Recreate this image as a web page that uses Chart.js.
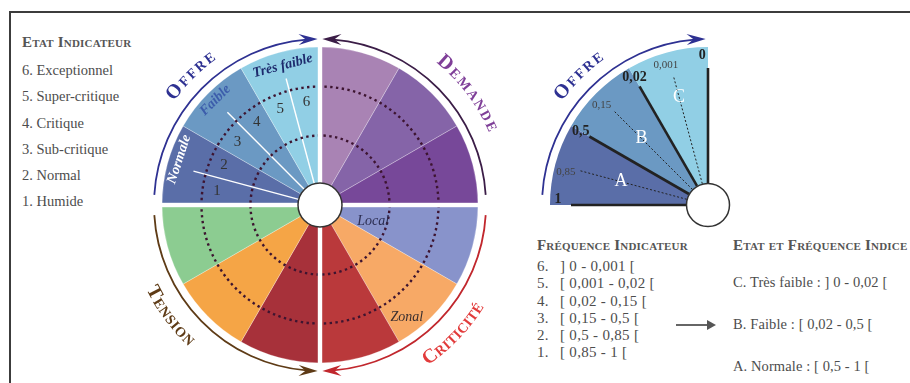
<!DOCTYPE html>
<html>
<head>
<meta charset="utf-8">
<script src="https://cdn.jsdelivr.net/npm/chart.js@4.4.1/dist/chart.umd.min.js"></script>
<style>
  body { margin: 0; width: 910px; height: 383px; overflow: hidden; position: relative; background: #fff;
         font-family: "Liberation Serif", serif; color: #4d4d4d; }
  .frame { position: absolute; left: 9px; top: 11px; width: 940px; height: 420px;
           border-left: 2px solid #3c3c3c; border-top: 2px solid #3c3c3c; }
  .title { position: absolute; font-variant: small-caps; font-weight: bold; font-size: 15px;
           line-height: 1; color: #555; letter-spacing: 0.2px; white-space: nowrap; }
  .list { position: absolute; font-size: 14.5px; white-space: nowrap; }
  .list div span { display: inline-block; width: 23px; }
  canvas { position: absolute; top: 0; }
  #wheel { left: 100px; }
  #offre { left: 520px; }
  .arrow { position: absolute; left: 676px; top: 324px; width: 32px; height: 2px; background: #666; }
  .arrow:after { content: ""; position: absolute; left: 31px; top: -4px; border-left: 9px solid #555;
                 border-top: 5px solid transparent; border-bottom: 5px solid transparent; }
</style>
</head>
<body>
<div class="frame"></div>

<div class="title" style="left:22px; top:35px;">Etat Indicateur</div>
<div class="list" id="stateList" style="left:22px; top:57px; line-height:26.3px;"></div>

<div class="title" style="left:537px; top:238px;">Fréquence Indicateur</div>
<div class="list" id="freqList" style="left:537px; top:258px; line-height:17.3px; font-size:15px; letter-spacing:0.3px;"></div>

<div class="arrow"></div>

<div class="title" style="left:733px; top:238px;">Etat et Fréquence Indice</div>
<div class="list" id="indexList" style="left:733px; top:261px; line-height:42.2px; font-size:14.5px; letter-spacing:0.1px;"></div>

<canvas id="wheel" width="440" height="383"></canvas>
<canvas id="offre" width="240" height="383"></canvas>

<script>
// legends
const stateNumbers = ['6', '5', '4', '3', '2', '1'];
const stateLabels = ['Exceptionnel', 'Super-critique', 'Critique', 'Sub-critique', 'Normal', 'Humide'];
const freqRanges = ['] 0 - 0,001 [', '[ 0,001 - 0,02 [', '[ 0,02 - 0,15 [', '[ 0,15 - 0,5 [', '[ 0,5 - 0,85 [', '[ 0,85 - 1 ['];
const indexStates = ['C. Très faible : ] 0 - 0,02 [', 'B. Faible : [ 0,02 - 0,5 [', 'A. Normale : [ 0,5 - 1 ['];

// wheel: 12 wedges, clockwise from the top
const wedgeLabels = ['Demande 1', 'Demande 2', 'Demande 3', 'Local', 'Zonal', 'Criticité 3',
                     'Tension 1', 'Tension 2', 'Tension 3', 'Normale', 'Faible', 'Très faible'];
const wedgeValues = [1, 1, 1, 1, 1, 1, 1, 1, 1, 1, 1, 1];
const wedgeColors = ['#a983b4', '#8564a8', '#774899', '#8893cb', '#f7a966', '#ba393b',
                     '#a7313a', '#f5a546', '#8ccc91', '#5a6ea8', '#6b99c3', '#91cfe5'];
const ringValues = [0, 0.44, 0.75];
const offreSteps = ['1', '2', '3', '4', '5', '6'];

// right panel: Offre index
const indexClasses = ['A', 'B', 'C'];
const indexShares = [1, 1, 1];
const indexColors = ['#5a6ea8', '#6b99c3', '#91cfe5'];
const freqTicks = ['1', '0,85', '0,5', '0,15', '0,02', '0,001', '0'];

document.getElementById('stateList').innerHTML =
  stateLabels.map((s, i) => `<div>${stateNumbers[i]}. ${s}</div>`).join('');
document.getElementById('freqList').innerHTML =
  freqRanges.map((s, i) => `<div><span>${stateNumbers[i]}.</span>${s}</div>`).join('');
document.getElementById('indexList').innerHTML =
  indexStates.map(s => `<div>${s}</div>`).join('');

const RAD = Math.PI / 180;
const SERIF = '"Liberation Serif", serif';

function arcArrow(ctx, cx, cy, r, fromDeg, toDeg, color) {
  const s = Math.sign(toDeg - fromDeg);
  const head = 17;
  const t = toDeg * RAD;
  const back = t - s * (head * 0.55) / r;
  ctx.save();
  ctx.strokeStyle = color;
  ctx.lineWidth = 1.8;
  ctx.beginPath();
  ctx.arc(cx, cy, r, fromDeg * RAD, back, s < 0);
  ctx.stroke();
  const tx = cx + r * Math.cos(t), ty = cy + r * Math.sin(t);
  const dx = -s * Math.sin(t), dy = s * Math.cos(t);
  const nx = Math.cos(t), ny = Math.sin(t);
  ctx.fillStyle = color;
  ctx.beginPath();
  ctx.moveTo(tx + dx * 2, ty + dy * 2);
  ctx.lineTo(tx - dx * head + nx * 5.5, ty - dy * head + ny * 5.5);
  ctx.lineTo(tx - dx * head * 0.6, ty - dy * head * 0.6);
  ctx.lineTo(tx - dx * head - nx * 5.5, ty - dy * head - ny * 5.5);
  ctx.closePath();
  ctx.fill();
  ctx.restore();
}

// small caps text along a circle; bottom = read counter-clockwise with tops toward the centre
function curvedLabel(ctx, cx, cy, r, midDeg, word, color, spacing, bottom) {
  const chars = word.toUpperCase().split('');
  const fonts = chars.map((c, i) => `bold ${i === 0 ? 20 : 14}px ${SERIF}`);
  const widths = chars.map((c, i) => { ctx.font = fonts[i]; return ctx.measureText(c).width; });
  const total = widths.reduce((a, b) => a + b, 0) + spacing * (chars.length - 1);
  const dir = bottom ? -1 : 1;
  let a = midDeg * RAD - dir * total / 2 / r;
  ctx.save();
  ctx.fillStyle = color;
  ctx.textAlign = 'center';
  ctx.textBaseline = 'alphabetic';
  chars.forEach((c, i) => {
    const ca = a + dir * widths[i] / 2 / r;
    ctx.save();
    ctx.translate(cx + r * Math.cos(ca), cy + r * Math.sin(ca));
    ctx.rotate(ca + dir * Math.PI / 2);
    ctx.font = fonts[i];
    ctx.fillText(c, 0, 0);
    ctx.restore();
    a += dir * (widths[i] + spacing) / r;
  });
  ctx.restore();
}

function centreDisc(ctx, x, y, r) {
  ctx.save();
  ctx.beginPath();
  ctx.arc(x, y, r, 0, 2 * Math.PI);
  ctx.fillStyle = '#fff';
  ctx.fill();
  ctx.lineWidth = 1.5;
  ctx.strokeStyle = '#333';
  ctx.stroke();
  ctx.restore();
}

const wheelDecor = {
  id: 'wheelDecor',
  afterDatasetsDraw(chart) {
    const ctx = chart.ctx;
    const arcs = chart.getDatasetMeta(0).data;
    ctx.save();
    ctx.strokeStyle = '#fff';
    ctx.lineWidth = 1.4;
    [9, 10, 11].forEach(i => {
      const el = arcs[i];
      const m = (el.startAngle + el.endAngle) / 2;
      ctx.beginPath();
      ctx.moveTo(el.x + 22 * Math.cos(m), el.y + 22 * Math.sin(m));
      ctx.lineTo(el.x + 131 * Math.cos(m), el.y + 131 * Math.sin(m));
      ctx.stroke();
    });
    ctx.restore();
  },
  afterDraw(chart) {
    const ctx = chart.ctx;
    const arcs = chart.getDatasetMeta(0).data;
    const cx = arcs[0].x, cy = arcs[0].y, R = arcs[0].outerRadius;

    // white gaps between the quadrants
    ctx.save();
    ctx.fillStyle = '#fff';
    ctx.fillRect(cx - 2.2, cy - R - 2, 4.4, 2 * R + 4);
    ctx.fillRect(cx - R - 2, cy - 2.2, 2 * R + 4, 4.4);
    ctx.restore();

    // state numbers 1..6 inside Offre
    ctx.save();
    ctx.fillStyle = '#333';
    ctx.font = `15px ${SERIF}`;
    ctx.textAlign = 'center';
    ctx.textBaseline = 'middle';
    [9, 10, 11].forEach((idx, k) => {
      const el = arcs[idx];
      const span = el.endAngle - el.startAngle;
      [0.25, 0.75].forEach((f, j) => {
        const a = el.startAngle + f * span;
        ctx.fillText(offreSteps[k * 2 + j], cx + 104 * Math.cos(a), cy + 104 * Math.sin(a));
      });
    });
    ctx.restore();

    // Offre wedge names, tangential
    const nameColors = {9: '#ffffff', 10: '#3c5dab', 11: '#1d2a6c'};
    const nameRadius = {9: 148, 10: 148, 11: 144};
    ctx.save();
    ctx.font = `italic bold 14px ${SERIF}`;
    ctx.textAlign = 'center';
    ctx.textBaseline = 'middle';
    [9, 10, 11].forEach(idx => {
      const el = arcs[idx];
      const m = (el.startAngle + el.endAngle) / 2 + (idx === 9 ? 3 * RAD : 0);
      ctx.save();
      ctx.translate(cx + nameRadius[idx] * Math.cos(m), cy + nameRadius[idx] * Math.sin(m));
      ctx.rotate(m + Math.PI / 2);
      ctx.fillStyle = nameColors[idx];
      ctx.fillText(wedgeLabels[idx], 0, 0);
      ctx.restore();
    });
    // Local / Zonal
    ctx.font = `italic 14px ${SERIF}`;
    const loc = arcs[3], zon = arcs[4];
    const la = (loc.startAngle + loc.endAngle) / 2;
    ctx.fillStyle = '#2c2e52';
    ctx.fillText(wedgeLabels[3], cx + 55 * Math.cos(la), cy + 55 * Math.sin(la) + 2);
    const za = (zon.startAngle + zon.endAngle) / 2 + 7 * RAD;
    ctx.fillStyle = '#3a2f30';
    ctx.fillText(wedgeLabels[4], cx + 141 * Math.cos(za), cy + 141 * Math.sin(za) + 1);
    ctx.restore();

    centreDisc(ctx, cx, cy, 22);

    // quadrant arrows and titles
    arcArrow(ctx, cx, cy, 166, 183.5, 268.5, '#2e3192');
    arcArrow(ctx, cx, cy, 166, 356.5, 271.5, '#3b1d47');
    arcArrow(ctx, cx, cy, 166, 176.5, 91.5, '#5e3b16');
    arcArrow(ctx, cx, cy, 166, 3.5, 88.5, '#c1272d');
    curvedLabel(ctx, cx, cy, 179, 225, 'Offre', '#2e3192', 2, false);
    curvedLabel(ctx, cx, cy, 184, 323, 'Demande', '#7f3f98', 2, false);
    curvedLabel(ctx, cx, cy, 193, 143.5, 'Tension', '#5e3b16', 0.8, true);
    curvedLabel(ctx, cx, cy, 193, 44, 'Criticité', '#e23b3b', 0.4, true);
  }
};

new Chart(document.getElementById('wheel'), {
  type: 'polarArea',
  data: {
    labels: wedgeLabels,
    datasets: [{
      data: wedgeValues,
      backgroundColor: wedgeColors,
      borderColor: 'rgba(255,255,255,0.35)',
      borderWidth: 0.8
    }]
  },
  options: {
    responsive: false,
    animation: false,
    layout: { padding: { left: 62, right: 62, top: 47, bottom: 20 } },
    plugins: { legend: { display: false }, tooltip: { enabled: false } },
    scales: {
      r: {
        min: 0,
        max: 1,
        startAngle: 0,
        afterBuildTicks: axis => { axis.ticks = ringValues.map(v => ({ value: v })); },
        ticks: { display: false },
        grid: { circular: true, color: '#3d1430', lineWidth: 2.4, z: 1 },
        border: { dash: [2.4, 3.4] },
        angleLines: { display: false },
        pointLabels: { display: false }
      }
    }
  },
  plugins: [wheelDecor]
});

const offreDecor = {
  id: 'offreDecor',
  afterDraw(chart) {
    const ctx = chart.ctx;
    const arcs = chart.getDatasetMeta(0).data;
    const cx = arcs[0].x, cy = arcs[0].y;
    const bounds = arcs.map(el => el.startAngle).concat([arcs[arcs.length - 1].endAngle]);
    const mids = arcs.map(el => (el.startAngle + el.endAngle) / 2);

    ctx.save();
    // dotted frequency lines at mid angles
    ctx.strokeStyle = '#222';
    ctx.lineWidth = 1;
    ctx.setLineDash([2, 2]);
    mids.forEach(a => {
      ctx.beginPath();
      ctx.moveTo(cx + 22 * Math.cos(a), cy + 22 * Math.sin(a));
      ctx.lineTo(cx + 132 * Math.cos(a), cy + 132 * Math.sin(a));
      ctx.stroke();
    });
    // thick class limits
    ctx.setLineDash([]);
    ctx.lineWidth = 2.6;
    bounds.forEach(a => {
      ctx.beginPath();
      ctx.moveTo(cx + 22 * Math.cos(a), cy + 22 * Math.sin(a));
      ctx.lineTo(cx + 137 * Math.cos(a), cy + 137 * Math.sin(a));
      ctx.stroke();
    });

    // tick values
    ctx.textAlign = 'center';
    ctx.textBaseline = 'middle';
    freqTicks.forEach((t, k) => {
      let a, r;
      if (k % 2 === 0) {
        a = bounds[k / 2];
        if (k === 0) a += 2 * RAD;
        if (k === freqTicks.length - 1) a -= 2.2 * RAD;
        r = k === 0 || k === freqTicks.length - 1 ? 150 : 147;
        ctx.font = `bold 14px ${SERIF}`;
        ctx.fillStyle = '#222';
      } else {
        a = mids[(k - 1) / 2] - 1.8 * RAD;
        r = 146;
        ctx.font = `11px ${SERIF}`;
        ctx.fillStyle = '#444';
      }
      ctx.fillText(t, cx + r * Math.cos(a), cy + r * Math.sin(a));
    });

    // class letters
    const letterRadius = [90, 94, 112];
    ctx.font = `18px ${SERIF}`;
    ctx.fillStyle = '#fff';
    indexClasses.forEach((c, i) => {
      const a = mids[i];
      ctx.fillText(c, cx + letterRadius[i] * Math.cos(a), cy + letterRadius[i] * Math.sin(a));
    });
    ctx.restore();

    centreDisc(ctx, cx, cy, 21.5);
    arcArrow(ctx, cx, cy, 166, 183.5, 268.5, '#2e3192');
    curvedLabel(ctx, cx, cy, 179, 225, 'Offre', '#2e3192', 2, false);
  }
};

new Chart(document.getElementById('offre'), {
  type: 'doughnut',
  data: {
    labels: indexClasses,
    datasets: [{
      data: indexShares,
      backgroundColor: indexColors,
      borderWidth: 0
    }]
  },
  options: {
    responsive: false,
    animation: false,
    cutout: 0,
    rotation: -90,
    circumference: 90,
    layout: { padding: { left: 30, right: 52, top: 47, bottom: 178 } },
    plugins: { legend: { display: false }, tooltip: { enabled: false } }
  },
  plugins: [offreDecor]
});
</script>
</body>
</html>
